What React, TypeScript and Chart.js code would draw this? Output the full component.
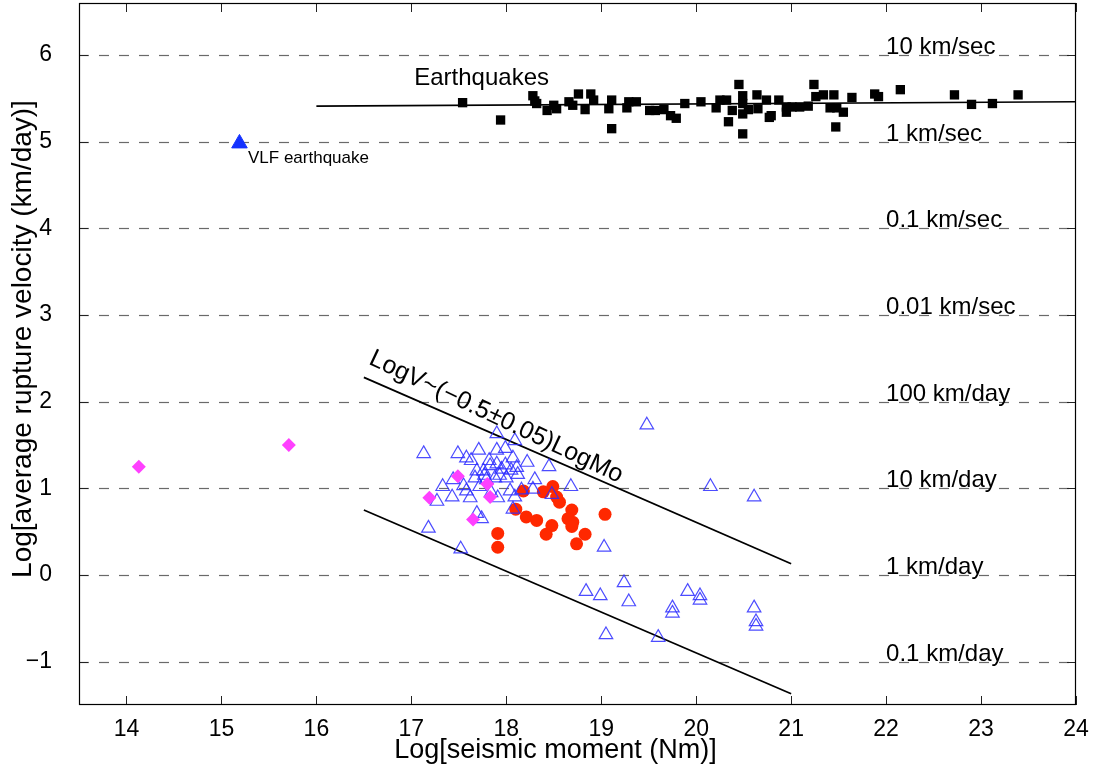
import React, { useEffect, useRef } from 'react';
import { Chart, registerables } from 'chart.js';

Chart.register(...registerables);

const FONT = '"Liberation Sans", Arial, Helvetica, sans-serif';

const xTicks = [14, 15, 16, 17, 18, 19, 20, 21, 22, 23, 24];
const yTicks = [-1, 0, 1, 2, 3, 4, 5, 6];
const xMin = 13.5;
const xMax = 24;
const yMin = -1.5;
const yMax = 6.6;

const xTitle = 'Log[seismic moment (Nm)]';
const yTitle = 'Log[average rupture velocity (km/day)]';

const velocityLabels = ['0.1 km/day', '1 km/day', '10 km/day', '100 km/day', '0.01 km/sec', '0.1 km/sec', '1 km/sec', '10 km/sec'];
const velocityLabelX = 22.0;

// Earthquakes (black squares)
const quakeX = [17.54, 17.94, 18.28, 18.30, 18.32, 18.43, 18.50, 18.53, 18.66, 18.70, 18.76, 18.83, 18.89, 18.92, 19.08, 19.11, 19.11, 19.27, 19.29, 19.37, 19.51, 19.57, 19.66, 19.73, 19.79, 19.88, 20.05, 20.21, 20.25, 20.32, 20.34, 20.38, 20.45, 20.49, 20.49, 20.49, 20.49, 20.55, 20.64, 20.65, 20.74, 20.79, 20.77, 20.87, 20.95, 20.95, 21.01, 21.09, 21.18, 21.24, 21.26, 21.34, 21.45, 21.41, 21.48, 21.55, 21.47, 21.64, 21.88, 21.92, 22.15, 22.72, 22.90, 23.12, 23.39];
const quakeY = [5.45, 5.25, 5.53, 5.47, 5.44, 5.36, 5.42, 5.38, 5.46, 5.42, 5.55, 5.37, 5.55, 5.48, 5.38, 5.48, 5.15, 5.39, 5.46, 5.46, 5.36, 5.36, 5.37, 5.30, 5.27, 5.44, 5.46, 5.39, 5.48, 5.48, 5.23, 5.36, 5.66, 5.53, 5.44, 5.32, 5.09, 5.37, 5.54, 5.38, 5.48, 5.30, 5.28, 5.48, 5.34, 5.40, 5.40, 5.40, 5.41, 5.66, 5.52, 5.54, 5.54, 5.39, 5.39, 5.34, 5.17, 5.51, 5.55, 5.52, 5.60, 5.54, 5.43, 5.44, 5.54];
const quakeFitX = [16, 24];
const quakeFitY = [5.41, 5.46];

// VLF earthquake
const vlfX = [15.19];
const vlfY = [4.98];

// Magenta diamonds
const diamondX = [14.13, 15.71, 17.19, 17.49, 17.80, 17.83, 17.65];
const diamondY = [1.25, 1.50, 0.89, 1.14, 1.05, 0.90, 0.64];

// Blue open triangles
const triX = [17.13, 17.49, 17.58, 17.71, 17.63, 17.90, 18.09, 17.90, 17.99, 18.07, 17.82, 18.22, 18.45, 17.69, 17.76, 17.83, 17.90, 17.95, 17.99, 18.05, 18.11, 17.77, 17.93, 17.67, 17.79, 17.88, 18.00, 18.12, 18.30, 17.44, 17.33, 17.55, 17.58, 17.62, 17.43, 17.27, 17.72, 17.84, 17.91, 18.04, 18.09, 18.16, 18.28, 18.48, 18.68, 18.07, 17.69, 17.74, 17.18, 17.52, 19.03, 19.48, 20.15, 20.61, 18.84, 18.99, 19.24, 19.29, 19.05, 19.60, 19.75, 19.75, 19.91, 20.04, 20.04, 20.61, 20.63, 20.63];
const triY = [1.40, 1.40, 1.35, 1.44, 1.32, 1.63, 1.55, 1.44, 1.46, 1.35, 1.32, 1.30, 1.25, 1.20, 1.20, 1.26, 1.28, 1.22, 1.27, 1.21, 1.24, 1.15, 1.15, 1.12, 1.10, 1.12, 1.12, 1.16, 1.10, 1.10, 1.02, 1.03, 0.97, 0.89, 0.90, 0.85, 1.02, 0.95, 0.89, 0.97, 0.90, 0.98, 0.99, 0.93, 1.02, 0.76, 0.71, 0.65, 0.54, 0.30, 0.32, 1.73, 1.02, 0.90, -0.19, -0.24, -0.09, -0.31, -0.69, -0.72, -0.38, -0.44, -0.19, -0.24, -0.29, -0.38, -0.54, -0.59];

// Red filled circles
const redX = [18.18, 18.10, 18.21, 18.32, 17.91, 17.91, 18.39, 18.49, 18.53, 18.56, 18.48, 18.42, 18.69, 18.65, 18.70, 18.69, 18.83, 18.74, 19.04];
const redY = [0.97, 0.76, 0.67, 0.63, 0.48, 0.32, 0.96, 1.02, 0.90, 0.84, 0.57, 0.47, 0.75, 0.65, 0.61, 0.56, 0.47, 0.36, 0.70];

// Scaling lines
const upperLineX = [16.5, 21];
const upperLineY = [2.28, 0.13];
const lowerLineX = [16.5, 21];
const lowerLineY = [0.75, -1.37];

const scalingLabel = 'LogV~(\u22120.5\u00b10.05)LogMo';
const scalingLabelX = 16.54;
const scalingLabelY = 2.44;
const quakeLabel = 'Earthquakes';
const quakeLabelX = 17.74;
const quakeLabelY = 5.65;
const vlfLabel = 'VLF earthquake';
const vlfLabelX = 15.28;
const vlfLabelY = 4.75;

const zip = (xs: number[], ys: number[]) => xs.map((x, i) => ({ x, y: ys[i] }));

const framePlugin = {
  id: 'frame',
  beforeDatasetsDraw(chart: any) {
    const { ctx, chartArea, scales } = chart;
    const { left, right, top, bottom } = chartArea;
    const xs = scales.x;
    const ys = scales.y;
    ctx.save();
    ctx.strokeStyle = '#6a6a6a';
    ctx.lineWidth = 1.2;
    ctx.setLineDash([10, 10]);
    yTicks.forEach((v) => {
      const py = Math.round(ys.getPixelForValue(v)) + 0.5;
      ctx.beginPath();
      ctx.moveTo(left, py);
      ctx.lineTo(right, py);
      ctx.stroke();
    });
    ctx.setLineDash([]);
    ctx.strokeStyle = '#222';
    ctx.lineWidth = 1;
    const tl = 9;
    yTicks.forEach((v) => {
      const py = Math.round(ys.getPixelForValue(v)) + 0.5;
      ctx.beginPath();
      ctx.moveTo(left, py);
      ctx.lineTo(left + tl, py);
      ctx.moveTo(right, py);
      ctx.lineTo(right - tl, py);
      ctx.stroke();
    });
    xTicks.forEach((v) => {
      const px = Math.round(xs.getPixelForValue(v)) + 0.5;
      ctx.beginPath();
      ctx.moveTo(px, bottom);
      ctx.lineTo(px, bottom - tl);
      ctx.moveTo(px, top);
      ctx.lineTo(px, top + tl);
      ctx.stroke();
    });
    ctx.strokeStyle = '#000';
    ctx.lineWidth = 1.2;
    ctx.strokeRect(left + 0.5, top + 0.5, right - left - 1, bottom - top - 1);
    ctx.restore();
  },
  afterDatasetsDraw(chart: any) {
    const { ctx, scales, chartArea } = chart;
    const xs = scales.x;
    const ys = scales.y;
    ctx.save();
    ctx.fillStyle = '#000';
    ctx.font = `24px ${FONT}`;
    ctx.textAlign = 'left';
    ctx.textBaseline = 'alphabetic';
    yTicks.forEach((v, i) => {
      ctx.fillText(velocityLabels[i], xs.getPixelForValue(velocityLabelX), ys.getPixelForValue(v) - 1);
    });
    ctx.textAlign = 'center';
    ctx.font = `24px ${FONT}`;
    ctx.fillText(quakeLabel, xs.getPixelForValue(quakeLabelX), ys.getPixelForValue(quakeLabelY));
    ctx.textAlign = 'left';
    ctx.font = `17px ${FONT}`;
    ctx.fillText(vlfLabel, xs.getPixelForValue(vlfLabelX), ys.getPixelForValue(vlfLabelY));

    // axis titles
    ctx.textAlign = 'center';
    ctx.textBaseline = 'middle';
    ctx.font = `27px ${FONT}`;
    ctx.fillText(xTitle, (chartArea.left + chartArea.right) / 2 - 22, chartArea.bottom + 46);
    ctx.save();
    ctx.translate(23, (chartArea.top + chartArea.bottom) / 2 - 15);
    ctx.rotate(-Math.PI / 2);
    ctx.font = `28px ${FONT}`;
    ctx.fillText(yTitle, 0, 0);
    ctx.restore();

    // rotated scaling label
    const x1 = xs.getPixelForValue(upperLineX[0]);
    const y1 = ys.getPixelForValue(upperLineY[0]);
    const x2 = xs.getPixelForValue(upperLineX[1]);
    const y2 = ys.getPixelForValue(upperLineY[1]);
    const ang = Math.atan2(y2 - y1, x2 - x1) + 0.033;
    ctx.translate(xs.getPixelForValue(scalingLabelX), ys.getPixelForValue(scalingLabelY));
    ctx.rotate(ang);
    ctx.font = `25px ${FONT}`;
    ctx.textAlign = 'left';
    ctx.textBaseline = 'alphabetic';
    ctx.fillText(scalingLabel, 0, 0);
    ctx.restore();
  },
};

export default function App() {
  const canvasRef = useRef<HTMLCanvasElement | null>(null);

  useEffect(() => {
    if (!canvasRef.current) return;
    const chart = new Chart(canvasRef.current, {
      type: 'scatter',
      data: {
        datasets: [
          {
            label: 'VLF earthquake',
            data: zip(vlfX, vlfY),
            pointStyle: 'triangle',
            pointRadius: 9,
            backgroundColor: 'rgb(20,50,255)',
            borderColor: 'rgb(20,50,255)',
            borderWidth: 1,
          },
          {
            label: 'diamonds',
            data: zip(diamondX, diamondY),
            pointStyle: 'rectRot',
            pointRadius: 7,
            backgroundColor: 'rgb(255,64,255)',
            borderColor: 'rgb(255,64,255)',
            borderWidth: 0,
          },
          {
            label: 'triangles',
            data: zip(triX, triY),
            pointStyle: 'triangle',
            pointRadius: 7.8,
            backgroundColor: 'rgba(0,0,0,0)',
            borderColor: 'rgba(45,45,255,0.85)',
            borderWidth: 1.2,
          },
          {
            label: 'red',
            data: zip(redX, redY),
            pointStyle: 'circle',
            pointRadius: 6.5,
            backgroundColor: 'rgb(255,40,0)',
            borderColor: 'rgb(255,40,0)',
            borderWidth: 0,
          },
          {
            label: 'Earthquakes',
            data: zip(quakeX, quakeY),
            pointStyle: 'rect',
            pointRadius: 6.6,
            backgroundColor: '#000',
            borderColor: '#000',
            borderWidth: 0,
          },
          {
            type: 'line',
            label: 'fit',
            data: zip(quakeFitX, quakeFitY),
            showLine: true,
            pointRadius: 0,
            borderColor: '#000',
            borderWidth: 1.6,
          },
          {
            type: 'line',
            label: 'upper',
            data: zip(upperLineX, upperLineY),
            showLine: true,
            pointRadius: 0,
            borderColor: '#000',
            borderWidth: 1.8,
          },
          {
            type: 'line',
            label: 'lower',
            data: zip(lowerLineX, lowerLineY),
            showLine: true,
            pointRadius: 0,
            borderColor: '#000',
            borderWidth: 1.8,
          },
        ] as any,
      },
      options: {
        animation: false,
        responsive: true,
        maintainAspectRatio: false,
        layout: { autoPadding: false, padding: { top: 3, right: 20, left: 0, bottom: 0 } },
        plugins: { legend: { display: false }, tooltip: { enabled: false } },
        scales: {
          x: {
            type: 'linear',
            min: xMin,
            max: xMax,
            grid: { display: false },
            border: { display: false },
            afterBuildTicks: (s: any) => { s.ticks = xTicks.map((v) => ({ value: v })); },
            afterFit: (s: any) => { s.height = 64; s.paddingLeft = 0; s.paddingRight = 0; },
            ticks: {
              color: '#000',
              padding: 3,
              font: { family: FONT, size: 23 },
              callback: (v: any) => String(v),
            },
            title: { display: false },
          },
          y: {
            type: 'linear',
            min: yMin,
            max: yMax,
            grid: { display: false },
            border: { display: false },
            afterBuildTicks: (s: any) => { s.ticks = yTicks.map((v) => ({ value: v })); },
            afterFit: (s: any) => { s.width = 79; s.paddingTop = 0; s.paddingBottom = 0; },
            ticks: {
              color: '#000',
              padding: 19,
              font: { family: FONT, size: 23 },
              callback: (v: any) => String(v).replace('-', '\u2212'),
            },
            title: { display: false },
          },
        },
      },
      plugins: [framePlugin],
    });
    return () => chart.destroy();
  }, []);

  return (
    <div style={{ position: 'absolute', left: 0, top: 0, width: 1096, height: 769, background: '#fff' }}>
      <canvas ref={canvasRef} />
    </div>
  );
}
